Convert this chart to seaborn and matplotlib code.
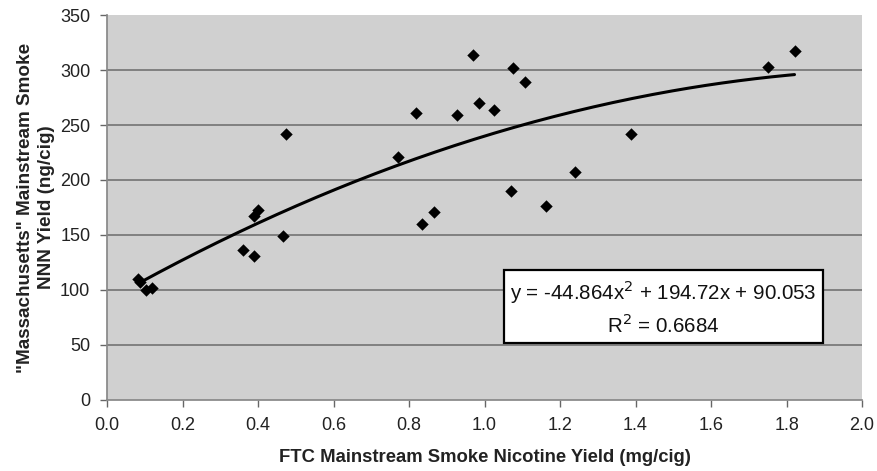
import numpy as np
import pandas as pd
import matplotlib
matplotlib.use('Agg')
import matplotlib.pyplot as plt
import seaborn as sns

# ─── data ───────────────────────────────────────────────────────────────────
nicotine = [0.083, 0.087, 0.103, 0.118, 0.361, 0.390, 0.390, 0.399, 0.465,
            0.474, 0.770, 0.819, 0.835, 0.867, 0.928, 0.969, 0.984, 1.026,
            1.070, 1.076, 1.107, 1.162, 1.240, 1.388, 1.750, 1.821]
nnn = [110, 107, 100, 102, 136, 131, 167, 173, 149,
       242, 221, 261, 160, 171, 259, 314, 270, 264,
       190, 302, 289, 176, 207, 242, 303, 317]

# Excel trendline shown on the chart
poly_coef = [-44.864, 194.72, 90.053]
r_squared = 0.6684

x_ticks = [0.0, 0.2, 0.4, 0.6, 0.8, 1.0, 1.2, 1.4, 1.6, 1.8, 2.0]
y_ticks = [0, 50, 100, 150, 200, 250, 300, 350]

df = pd.DataFrame({'nic': nicotine, 'nnn': nnn})
x_fit = np.linspace(min(nicotine), max(nicotine), 200)
fit = pd.DataFrame({'x': x_fit, 'y': np.polyval(poly_coef, x_fit)})

# ─── plot ───────────────────────────────────────────────────────────────────
sns.set_theme(style='ticks')
plt.rcParams['font.family'] = ['Liberation Sans', 'DejaVu Sans']

fig, ax = plt.subplots(figsize=(8.77, 4.71), dpi=100)
fig.subplots_adjust(left=0.122, right=0.983, top=0.968, bottom=0.151)

ax.set_facecolor('#d0d0d0')
for yv in y_ticks[1:-1]:
    ax.axhline(yv, color='#7a7a7a', lw=1.3, zorder=1)

sns.lineplot(data=fit, x='x', y='y', ax=ax, color='black', lw=2.2, zorder=3)
sns.scatterplot(data=df, x='nic', y='nnn', ax=ax, marker='D', s=40,
                color='black', edgecolor='black', linewidth=0, zorder=4)

ax.set_xlim(0, 2.0)
ax.set_ylim(0, 350)
ax.set_xticks(x_ticks)
ax.set_xticklabels([f'{t:.1f}' for t in x_ticks])
ax.set_yticks(y_ticks)
ax.tick_params(axis='both', labelsize=13, length=5, width=1, color='#666666',
               labelcolor='#222222', pad=7)
for side in ['top', 'right']:
    ax.spines[side].set_visible(False)
for side in ['left', 'bottom']:
    ax.spines[side].set_color('#888888')

ax.set_xlabel('FTC Mainstream Smoke Nicotine Yield (mg/cig)', fontsize=13.3,
              fontweight='bold', labelpad=11, color='#222222')
ax.set_ylabel('"Massachusetts" Mainstream Smoke\nNNN Yield (ng/cig)', fontsize=13.6,
              fontweight='bold', labelpad=4, linespacing=1.25, color='#222222')

a, b, c = poly_coef
eq = f'y = {a}x$^2$ + {b}x + {c}'
ax.text(1.473, 84, f'{eq}\nR$^2$ = {r_squared}', ha='center', va='center',
        fontsize=14.8, linespacing=1.35, color='#111111', zorder=5,
        bbox=dict(boxstyle='square,pad=0.3', fc='white', ec='black', lw=1.6))

plt.savefig('out.png', dpi=100)
plt.close()
